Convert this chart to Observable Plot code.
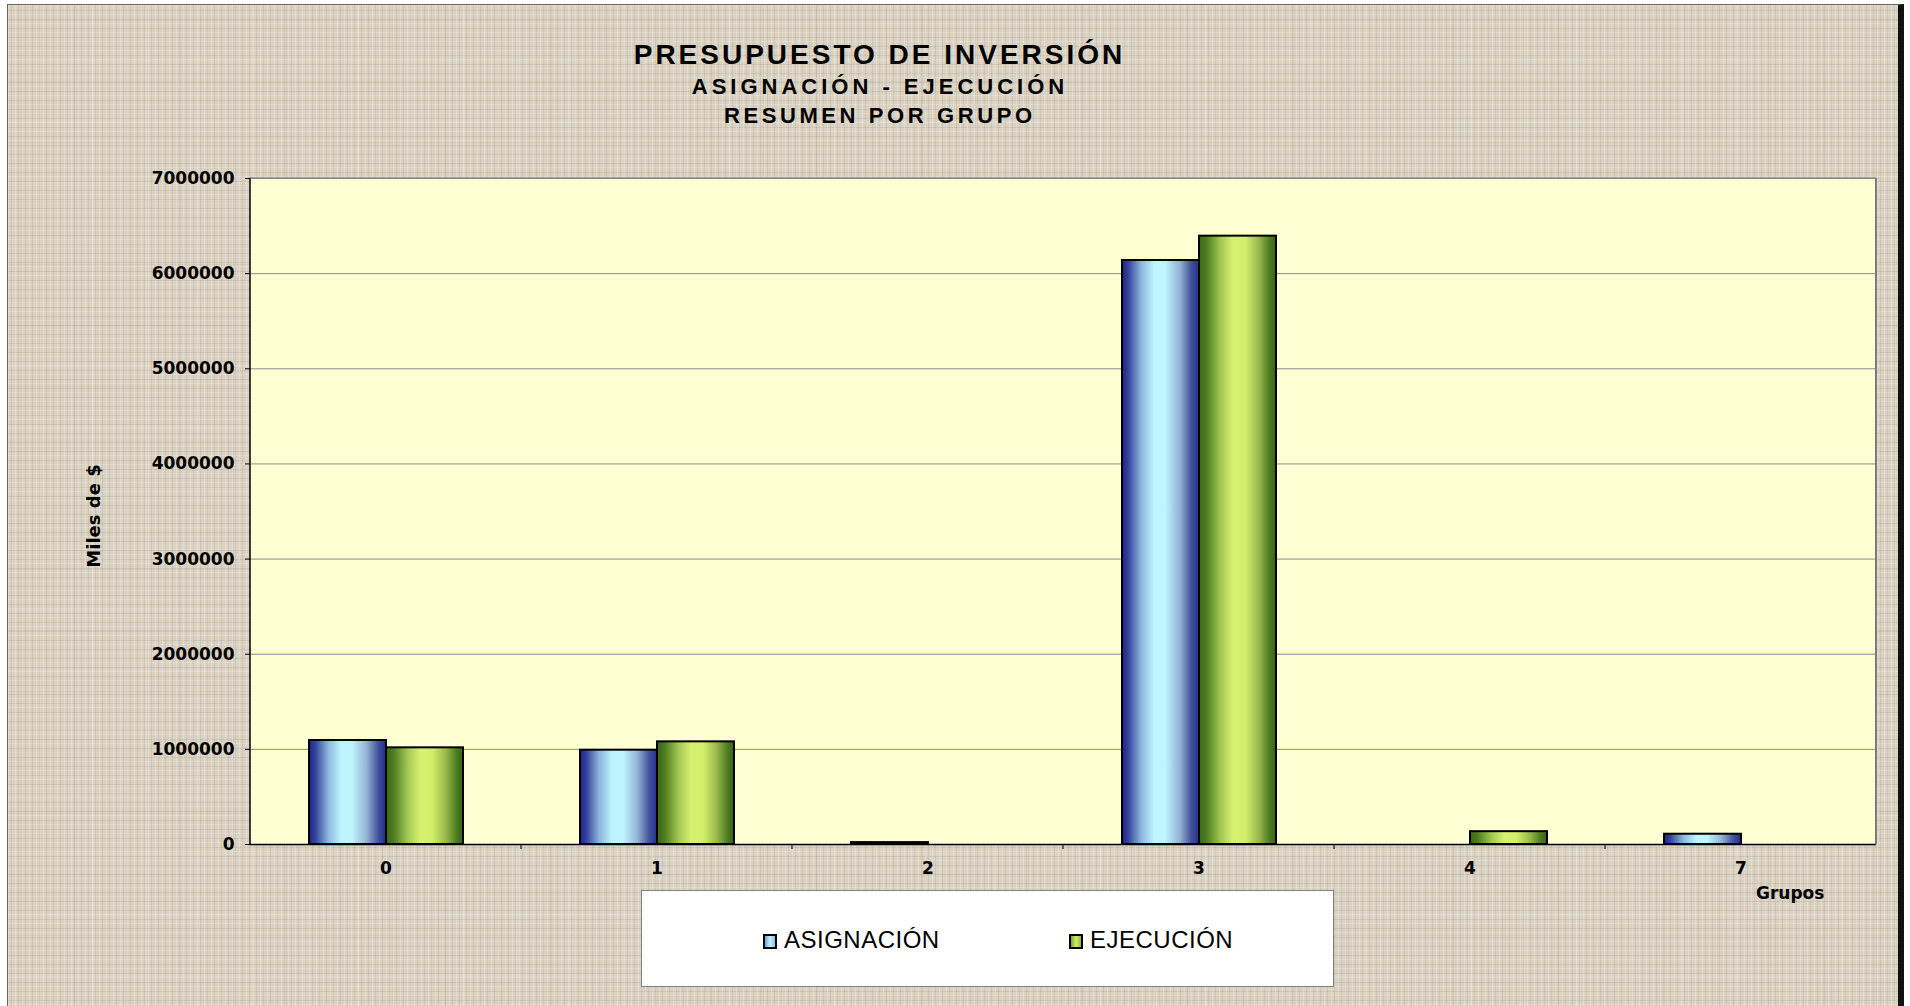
<!DOCTYPE html>
<html>
<head>
<meta charset="utf-8">
<script src="https://cdn.jsdelivr.net/npm/d3@7"></script>
<script src="https://cdn.jsdelivr.net/npm/@observablehq/plot@0.6"></script>
<style>
html, body { margin: 0; padding: 0; overflow: hidden; background: #ffffff; width: 1910px; height: 1006px; }
#bg {
  position: absolute; left: 7px; top: 4px; width: 1897px; height: 1010px; box-sizing: border-box;
  border-top: 1px solid #6b6459; border-left: 1px solid #6b6459; border-right: 6px solid #111;
  background-color: #d9d1c1;
  background-image:
    repeating-linear-gradient(90deg, rgba(255,255,255,0.22) 0 1px, transparent 1px 3px, rgba(90,75,50,0.09) 3px 4px, transparent 4px 7px),
    repeating-linear-gradient(0deg, rgba(255,255,255,0.20) 0 1px, transparent 1px 4px, rgba(90,75,50,0.10) 4px 5px, transparent 5px 9px),
    repeating-linear-gradient(90deg, transparent 0 13px, rgba(110,95,70,0.06) 13px 14px, transparent 14px 31px, rgba(255,255,255,0.10) 31px 33px, transparent 33px 53px),
    repeating-linear-gradient(0deg, transparent 0 17px, rgba(110,95,70,0.06) 17px 18px, transparent 18px 37px, rgba(255,255,255,0.10) 37px 39px, transparent 39px 61px);
}
.t { position: absolute; left: 378px; width: 1000px; text-align: center; font-family: "Liberation Sans", Arial, sans-serif;
     font-weight: bold; color: #000; box-sizing: border-box; white-space: nowrap; }
#t1 { top: 40.5px; font-size: 28px; line-height: 28px; letter-spacing: 3px; padding-left: 3px; }
#t2 { top: 76.4px; font-size: 22px; line-height: 22px; letter-spacing: 4px; padding-left: 4px; }
#t3 { top: 104.7px; font-size: 22px; line-height: 22px; letter-spacing: 3.6px; padding-left: 3.6px; }
#chart { position: absolute; left: 0; top: 0; }
#ylab { position: absolute; left: 93px; top: 516px; transform: translate(-50%, -50%) rotate(-90deg);
        font-family: "DejaVu Sans", sans-serif; font-weight: bold; font-size: 18px; white-space: nowrap; color: #000; }
#xlab { position: absolute; left: 1756px; top: 885px; font-family: "DejaVu Sans", sans-serif; font-weight: bold;
        font-size: 17px; line-height: 17px; color: #000; }
#legend { position: absolute; left: 641px; top: 890px; width: 693px; height: 97px; box-sizing: border-box;
          background: #fff; border: 1px solid #808080; }
.li { position: absolute; top: 37px; font-family: "Liberation Sans", Arial, sans-serif; font-size: 24px; line-height: 24px;
      letter-spacing: 0.5px; color: #000; white-space: nowrap; }
.sw { display: inline-block; width: 14px; height: 15px; box-sizing: border-box; border: 2px solid #000; margin-right: 7px;
      vertical-align: -1px; }
</style>
</head>
<body>
<div id="bg"></div>
<div class="t" id="t1">PRESUPUESTO DE INVERSIÓN</div>
<div class="t" id="t2">ASIGNACIÓN - EJECUCIÓN</div>
<div class="t" id="t3">RESUMEN POR GRUPO</div>
<div id="chart"></div>
<div id="ylab">Miles de $</div>
<div id="xlab">Grupos</div>
<div id="legend"></div>
<script>
// ---- data ----
const grupos = ["0", "1", "2", "3", "4", "7"];
const series = ["ASIGNACIÓN", "EJECUCIÓN"];
const asignacion = [1093000, 991000, 20000, 6138000, 0, 108000];
const ejecucion = [1016000, 1079000, 0, 6394000, 135000, 0];
const yTicks = [0, 1000000, 2000000, 3000000, 4000000, 5000000, 6000000, 7000000];

const table = grupos.flatMap((g, i) => [
  {grupo: g, serie: series[0], valor: asignacion[i]},
  {grupo: g, serie: series[1], valor: ejecucion[i]}
]);

const W = 1910, H = 900;
const mL = 249, mR = 33, mT = 178, mB = 56;
const axisFont = {fontFamily: "DejaVu Sans, sans-serif", fontWeight: "bold", fontSize: 17};

const chart = Plot.plot({
  width: W, height: H,
  marginLeft: mL, marginRight: mR, marginTop: mT, marginBottom: mB,
  style: {background: "transparent", color: "#000", overflow: "visible"},
  fx: {domain: grupos, padding: 0, label: null},
  x: {domain: series, paddingInner: 0, paddingOuter: 0.746, axis: null},
  y: {domain: [0, 7000000], label: null},
  marks: [
    Plot.gridY(yTicks, {stroke: "#8c8c8c", strokeOpacity: 1, strokeWidth: 1}),
    Plot.barY(table.filter(d => d.serie === series[0] && d.valor > 0),
      {fx: "grupo", x: "serie", y: "valor", fill: "url(#gA)", stroke: "#000", strokeWidth: 2}),
    Plot.barY(table.filter(d => d.serie === series[1] && d.valor > 0),
      {fx: "grupo", x: "serie", y: "valor", fill: "url(#gE)", stroke: "#000", strokeWidth: 2}),
    Plot.ruleY([0], {stroke: "#000", strokeWidth: 1.5}),
    Plot.axisY(yTicks, {tickFormat: d3.format("d"), tickSize: 5, tickPadding: 11, label: null, ...axisFont}),
    Plot.axisFx({anchor: "bottom", tickSize: 0, tickPadding: 17, label: null, ...axisFont})
  ]
});
document.getElementById("chart").appendChild(chart);

// ---- gradients, plot area background, frame lines ----
const svg = d3.select(chart);
const defs = svg.insert("defs", ":first-child");
function grad(id, stops) {
  const g = defs.append("linearGradient").attr("id", id).attr("x1", 0).attr("x2", 1).attr("y1", 0).attr("y2", 0);
  stops.forEach(([o, c]) => g.append("stop").attr("offset", o).attr("stop-color", c));
}
grad("gA", [[0, "#1d248c"], [0.08, "#33429c"], [0.25, "#8cb6dc"], [0.42, "#bef4ff"], [0.56, "#bef4ff"],
            [0.75, "#93b2d2"], [0.9, "#42529c"], [1, "#232f88"]]);
grad("gE", [[0, "#3a6616"], [0.1, "#4e7d22"], [0.28, "#a2c853"], [0.44, "#d6f070"], [0.6, "#d4ee6c"],
            [0.78, "#97b84a"], [0.92, "#4c7a20"], [1, "#386414"]]);

const fxS = chart.scale("fx"), yS = chart.scale("y");
const xLeft = fxS.apply(grupos[0]);
const xRight = fxS.apply(grupos[grupos.length - 1]) + fxS.bandwidth;
const y0 = yS.apply(0), yTop = yS.apply(7000000);

const bgRect = document.createElementNS("http://www.w3.org/2000/svg", "rect");
bgRect.setAttribute("x", xLeft); bgRect.setAttribute("y", yTop);
bgRect.setAttribute("width", xRight - xLeft); bgRect.setAttribute("height", y0 - yTop);
bgRect.setAttribute("fill", "#ffffd4");
chart.insertBefore(bgRect, defs.node().nextSibling);

const over = svg.append("g");
over.append("line").attr("x1", xRight).attr("x2", xRight).attr("y1", yTop).attr("y2", y0)
  .attr("stroke", "#7a7a7a").attr("stroke-width", 2);
over.append("line").attr("x1", xLeft).attr("x2", xRight).attr("y1", yTop).attr("y2", yTop)
  .attr("stroke", "#8c8c8c").attr("stroke-width", 1.5);
over.append("line").attr("x1", xLeft).attr("x2", xLeft).attr("y1", yTop).attr("y2", y0)
  .attr("stroke", "#000").attr("stroke-width", 1.5);
grupos.forEach((g, i) => {
  if (i === 0) return;
  const x = fxS.apply(g);
  over.append("line").attr("x1", x).attr("x2", x).attr("y1", y0).attr("y2", y0 + 5)
    .attr("stroke", "#000").attr("stroke-width", 1);
});

// ---- legend ----
const legend = document.getElementById("legend");
const swFill = ["linear-gradient(90deg, #6aa8d8, #c4f0ff 50%, #8ec4e8)", "linear-gradient(90deg, #7fa830, #d2ec66 50%, #95b840)"];
const legendLeft = [121, 427];
series.forEach((s, i) => {
  const d = document.createElement("div");
  d.className = "li";
  d.style.left = legendLeft[i] + "px";
  d.innerHTML = `<span class="sw" style="background:${swFill[i]}"></span>${s}`;
  legend.appendChild(d);
});
</script>
</body>
</html>
